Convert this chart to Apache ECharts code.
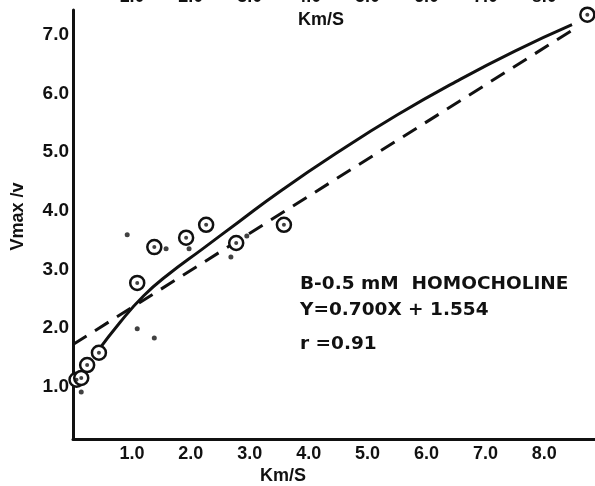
<!DOCTYPE html>
<html><head><meta charset="utf-8">
<script src="https://cdn.jsdelivr.net/npm/echarts@6/dist/echarts.min.js"></script>
<style>html,body{margin:0;padding:0;background:#fff}#c{width:595px;height:486px}</style>
</head><body><div id="c"></div>
<script>
// Data
const xTicks = [1, 2, 3, 4, 5, 6, 7, 8];
const yTicks = [1, 2, 3, 4, 5, 6, 7];
const circlePoints = [[0.06,1.12],[0.14,1.15],[0.24,1.37],[0.44,1.58],[1.09,2.77],[1.38,3.38],[1.92,3.54],[2.26,3.76],[2.77,3.45],[3.58,3.76],[8.73,7.34]];
const dotPoints = [[0.14,0.91],[0.92,3.59],[1.58,3.35],[1.97,3.35],[2.68,3.21],[2.95,3.57],[1.09,1.99],[1.38,1.83]];
const curveFit = [[0.40,1.58],[0.80,2.10],[1.20,2.55],[1.60,2.90],[2.20,3.35],[2.80,3.80],[3.50,4.32],[4.50,5.00],[5.50,5.63],[6.50,6.20],[7.50,6.72],[8.47,7.17]];
const linearFit = [[0,1.72],[8.56,7.13]];
const annotation = ['B-0.5 mM  HOMOCHOLINE', 'Y=0.700X + 1.554', 'r =0.91'];

const ink = '#111';
const chart = echarts.init(document.getElementById('c'), null, {renderer: 'canvas'});
chart.setOption({
  animation: false,
  backgroundColor: '#fff',
  grid: {left: 73, right: 0, top: 10, bottom: 47, outerBoundsMode: 'none', containLabel: false},
  xAxis: [{
    type: 'value', min: 0, max: 8.86,
    axisLine: {show: true, onZero: false, lineStyle: {color: ink, width: 3}},
    axisTick: {show: false}, splitLine: {show: false},
    axisLabel: {customValues: xTicks, formatter: v => v.toFixed(1), margin: 6, color: ink,
      fontSize: 18, fontWeight: 'bold', fontFamily: 'Liberation Sans'}
  }, {
    type: 'value', min: 0, max: 8.86, position: 'top',
    axisLine: {show: false}, axisTick: {show: false}, splitLine: {show: false},
    axisLabel: {customValues: xTicks, formatter: v => v.toFixed(1), margin: 4, color: ink,
      fontSize: 18, fontWeight: 'bold', fontFamily: 'Liberation Sans'}
  }],
  yAxis: {
    type: 'value', min: 0.11, max: 7.42,
    name: 'Vmax /v', nameLocation: 'middle', nameRotate: 90, nameGap: 46,
    nameTextStyle: {color: ink, fontSize: 18, fontWeight: 'bold', fontFamily: 'Liberation Sans', padding: [0, 0, 0, 16]},
    axisLine: {show: true, lineStyle: {color: ink, width: 3}},
    axisTick: {show: false}, splitLine: {show: false},
    axisLabel: {customValues: yTicks, formatter: v => v.toFixed(1), margin: 4, color: ink,
      fontSize: 19, fontWeight: 'bold', fontFamily: 'Liberation Sans'}
  },
  graphic: [
    {type: 'text', left: 260, top: 467, style: {text: 'Km/S', fill: ink, font: 'bold 18px "Liberation Sans"'}},
    {type: 'text', left: 298, top: 11, style: {text: 'Km/S', fill: ink, font: 'bold 18px "Liberation Sans"'}},
    {type: 'text', left: 300, top: 275, style: {text: annotation[0], fill: ink, font: 'bold 18.5px "DejaVu Sans"'}},
    {type: 'text', left: 300, top: 301, style: {text: annotation[1], fill: ink, font: 'bold 18.5px "DejaVu Sans"'}},
    {type: 'text', left: 300, top: 335, style: {text: annotation[2], fill: ink, font: 'bold 18.5px "DejaVu Sans"'}}
  ],
  series: [
    {type: 'line', data: linearFit, showSymbol: false, symbol: 'none',
      lineStyle: {color: ink, width: 3, type: [16, 10]}, z: 2},
    {type: 'line', data: curveFit, smooth: true, showSymbol: false, symbol: 'none',
      lineStyle: {color: ink, width: 3}, z: 2},
    {type: 'scatter', data: circlePoints, symbol: 'circle', symbolSize: 14,
      itemStyle: {color: '#fff', borderColor: ink, borderWidth: 2.5, opacity: 1}, z: 3},
    {type: 'scatter', data: circlePoints, symbol: 'circle', symbolSize: 4,
      itemStyle: {color: ink}, z: 4},
    {type: 'scatter', data: dotPoints, symbol: 'circle', symbolSize: 5,
      itemStyle: {color: ink}, z: 3}
  ]
});
</script></body></html>
